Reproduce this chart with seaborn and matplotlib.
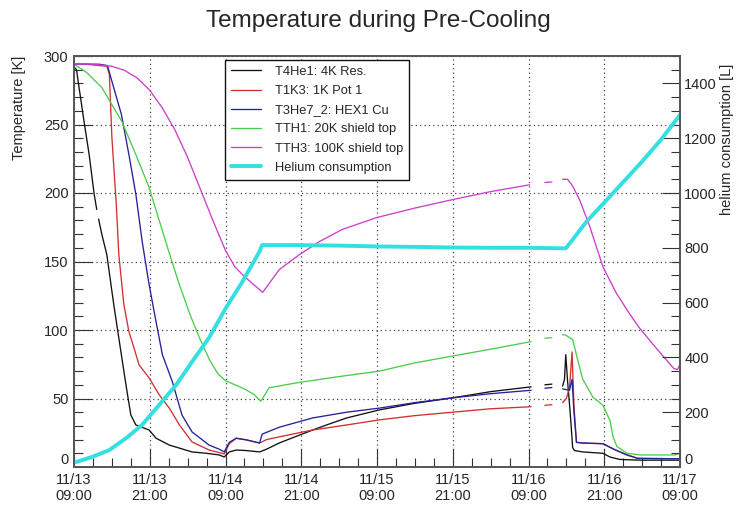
import matplotlib
matplotlib.use("Agg")
import matplotlib.pyplot as plt
import matplotlib.dates as mdates
from matplotlib.lines import Line2D
from matplotlib.ticker import MultipleLocator
import pandas as pd
import seaborn as sns

# ── Data (hours since 11/13 09:00, None = logging gap) ───────────────────────
START = pd.Timestamp("2016-11-13 09:00")

T4HE1_H = [0.0, 0.4, 0.8, 1.6, 2.4, 3.2, 3.6, None,
           3.9, 4.4, 5.2, 6.3, 7.5, 8.3, 9.0, 9.8, 11.9, 13.0, 15.1, 18.7, 21.0, 23.0,
           23.8, 24.6, 25.7, 27.3, 29.4, 30.5, 32.5, 35.0, 37.8, 40.5, 43.2, 48.4,
           54.0, 60.0, 66.0, 72.4, None,
           74.6, 75.7, None,
           77.4, 77.7, 77.9, 78.2, 78.6, 79.0, 79.3, 80.6, 83.8, 84.9, 86.5, 89.7, 96.0]
T4HE1_T = [292, 290, 277, 252, 228, 199, 188, None,
           181, 170, 155, 118.5, 82, 58, 38, 30.7, 27, 21, 16, 11, 10, 8.8,
           7.3, 11, 12.4, 12, 11, 13, 17.5, 22, 27, 31.5, 35.8, 41.7,
           46.5, 50.5, 55, 58.5, None,
           60, 60.5, None,
           59, 64, 82, 62, 40, 14, 12, 11, 10, 7.3, 5.5, 5, 5]

T1K3_H = [0.0, 2.0, 4.0, 5.2, 5.6, 6.0, 6.7, 7.1, 7.9, 8.7, 9.5, 10.3, 11.9, 13.5,
          15.1, 16.7, 18.7, 21.4, 23.0, 23.8, 24.6, 25.7, 27.3, 29.4, 30.5, 32.5,
          37.8, 43.2, 48.4, 54.0, 60.0, 66.0, 72.4, None,
          74.6, 75.7, None,
          77.4, 78.0, 78.5, 78.9, 79.2, 79.6, 80.6, 83.8, 85.5, 87.6, 89.3, 96.0]
T1K3_T = [294, 294, 293, 292.6, 287, 240.7, 191.7, 155, 118.5, 98.8, 87, 74.6, 65, 52.7,
          43, 30.7, 18.3, 12.4, 10.5, 9.5, 17, 21, 19.8, 17.5, 20, 22,
          27, 30.7, 34.4, 37.5, 40, 42.5, 44, None,
          45, 45.5, None,
          47, 50, 58, 84, 45, 18, 17.5, 17, 13, 8.8, 6.3, 6]

T3HE7_H = [0.0, 2.0, 4.0, 5.3, 6.0, 7.5, 8.7, 9.8, 10.8, 11.9, 13.0, 14.0, 15.6, 17.1,
           18.7, 21.4, 23.0, 23.8, 24.6, 25.7, 27.3, 29.4, 29.8, 32.5, 37.8, 43.2,
           48.4, 54.0, 60.0, 66.0, 72.4, None,
           74.6, 75.7, None,
           77.4, 78.5, 78.9, 79.2, 79.6, 80.6, 83.8, 85.5, 87.6, 89.3, 96.0]
T3HE7_T = [294, 294, 294, 293, 281.6, 257.5, 228, 199, 164.6, 133, 106, 82, 62, 38,
           25.6, 16, 13, 11, 18, 21, 19.8, 17.5, 24, 29, 35.8, 40,
           43, 47, 50.5, 53.5, 56, None,
           57.5, 58, None,
           57, 56, 64, 40, 18, 17.5, 17, 13, 8.8, 6.3, 6]

TTH1_H = [0.0, 2.0, 4.4, 7.6, 9.8, 11.9, 13.5, 15.1, 16.7, 18.4, 20.0, 21.5, 22.8,
          24.0, 25.5, 27.0, 28.5, 29.6, 30.9, 35.2, 42.0, 48.4, 54.0, 60.0, 66.0,
          72.4, None,
          74.6, 75.7, None,
          77.4, 77.8, 79.0, 79.8, 80.6, 82.2, 83.8, 84.9, 85.4, 86.0, 87.6, 89.7,
          95.2, 96.0]
TTH1_T = [294, 288, 277, 252, 228, 204, 180, 156, 133, 111, 93, 78, 68,
          63, 60, 57, 53, 48, 57.8, 61.4, 66, 70, 76, 81, 86,
          91.5, None,
          94, 94.4, None,
          96.5, 96.5, 93, 78, 64, 51, 45, 34, 22, 15, 10, 8.8,
          8.8, 10]

TTH3_H = [0.0, 3.0, 6.0, 8.0, 10.0, 12.0, 14.0, 16.0, 18.0, 20.0, 22.0, 24.0, 25.5,
          27.0, 28.5, 29.9, 32.5, 35.7, 38.9, 42.5, 47.9, 54.0, 59.8, 66.0, 72.2, None,
          74.6, 75.7, None,
          77.4, 78.2, 79.0, 80.1, 81.7, 83.8, 85.9, 87.9, 89.5, 92.0, 95.0, 95.6, 96.0]
TTH3_T = [294, 294, 292.5, 289.5, 284, 275, 262, 246, 226, 203, 180, 158, 146,
          139, 133, 127.5, 144, 155, 164.6, 173.4, 182, 189, 195, 201, 206, None,
          207.7, 208, None,
          210, 210, 205, 195, 175.6, 146, 127, 112.6, 102, 88, 72, 71, 75]

HELIUM_H = [0.3, 2.9, 5.6, 8.3, 10.8, 13.5, 16.2, 18.7, 21.4, 24.1, 26.7, 29.4, 29.8,
            35.0, 42.0, 48.0, 55.0, 60.0, 67.0, 72.0, 77.9, 79.0, 81.2, 84.4, 87.0,
            90.0, 93.0, 96.0]
HELIUM_L = [18, 37, 62, 106, 154, 227, 300, 384, 472, 582, 677, 787, 810,
            810, 808, 805, 803, 801, 800, 800, 798, 830, 896, 975, 1040,
            1115, 1195, 1285]

SENSORS = ["T4He1: 4K Res.", "T1K3: 1K Pot 1", "T3He7_2: HEX1 Cu",
           "TTH1: 20K shield top", "TTH3: 100K shield top"]
COLORS = ["#111111", "#d03030", "#22229a", "#4ccc4c", "#cc3fcc"]
HELIUM_LABEL = "Helium consumption"
HELIUM_COLOR = "#33dfe0"

FONT = ["Liberation Sans", "DejaVu Sans"]


def to_frame(name, hours, values):
    h = pd.Series(hours, dtype=float)
    seg = h.isna().cumsum().astype(str)
    df = pd.DataFrame({
        "sensor": name,
        "time": START + pd.to_timedelta(h, unit="h"),
        "value": pd.Series(values, dtype=float),
        "seg": name + "_" + seg,
    })
    return df.dropna()


def main():
    sns.set_theme(style="ticks")
    plt.rcParams["font.family"] = FONT

    temps = pd.concat([
        to_frame(SENSORS[0], T4HE1_H, T4HE1_T),
        to_frame(SENSORS[1], T1K3_H, T1K3_T),
        to_frame(SENSORS[2], T3HE7_H, T3HE7_T),
        to_frame(SENSORS[3], TTH1_H, TTH1_T),
        to_frame(SENSORS[4], TTH3_H, TTH3_T),
    ], ignore_index=True)
    helium = to_frame(HELIUM_LABEL, HELIUM_H, HELIUM_L)

    fig = plt.figure(figsize=(7.38, 5.05), dpi=100)
    ax = fig.add_axes([74 / 738, 1 - 467 / 505, 606 / 738, 411 / 505])

    sns.lineplot(data=temps, x="time", y="value", hue="sensor", units="seg",
                 estimator=None, sort=False, hue_order=SENSORS,
                 palette=dict(zip(SENSORS, COLORS)), lw=0.95, legend=False, ax=ax)

    ax2 = ax.twinx()
    sns.lineplot(data=helium, x="time", y="value", color=HELIUM_COLOR,
                 estimator=None, sort=False, lw=2.8, legend=False, ax=ax2)

    # axes ranges and ticks (ROOT look: inward ticks, dotted grid)
    ax.set_xlim(START, START + pd.Timedelta(hours=96))
    ax.set_ylim(0, 300)
    ax2.set_ylim(0, 1500)
    ax.xaxis.set_major_locator(mdates.HourLocator(byhour=[9, 21]))
    ax.xaxis.set_minor_locator(mdates.HourLocator(byhour=range(0, 24, 3)))
    ax.xaxis.set_major_formatter(mdates.DateFormatter("%m/%d\n%H:%M"))
    ax.yaxis.set_major_locator(MultipleLocator(50))
    ax.yaxis.set_minor_locator(MultipleLocator(10))
    ax2.yaxis.set_major_locator(MultipleLocator(200))
    ax2.yaxis.set_minor_locator(MultipleLocator(50))

    for a in (ax, ax2):
        a.tick_params(which="both", direction="in", width=0.8, color="#333333",
                      labelsize=10.5, top=False)
        a.tick_params(which="major", length=13)
        a.tick_params(which="minor", length=6.5)
        for sp in a.spines.values():
            sp.set_color("#555555")
            sp.set_linewidth(1.2)
    ax.tick_params(axis="y", right=False, pad=4)
    ax.tick_params(axis="x", pad=4)
    ax2.tick_params(axis="y", left=False, right=True, pad=3)

    ax.grid(True, which="major", linestyle=(0, (1, 2.5)), color="#444444", lw=0.9)
    ax2.grid(False)

    ax.set_xlabel("")
    ax.set_ylabel("Temperature [K]", fontsize=10.5, loc="top")
    ax.yaxis.set_label_coords(-0.08, 1.0)
    ax2.set_ylabel("helium consumption [L]", fontsize=10.5, loc="top")
    ax2.yaxis.set_label_coords(1.066, 0.98)

    fig.text(0.513, 1 - 21 / 505, "Temperature during Pre-Cooling",
             fontsize=17.5, ha="center", va="center")

    handles = [Line2D([], [], color=c, lw=0.95) for c in COLORS]
    handles.append(Line2D([], [], color=HELIUM_COLOR, lw=2.8))
    leg = ax2.legend(handles, SENSORS + [HELIUM_LABEL], loc="upper left",
                     bbox_to_anchor=(0.2492, 0.99), borderaxespad=0,
                     fontsize=9.3, frameon=True, fancybox=False, framealpha=1,
                     edgecolor="#111111", handlelength=2.3, labelspacing=0.55,
                     borderpad=0.45, handletextpad=1.1)
    leg.get_frame().set_linewidth(1.0)

    # lift the "0" labels a little so they clear the date labels (as ROOT does)
    fig.canvas.draw()
    for a in (ax, ax2):
        for tick in a.yaxis.get_major_ticks():
            if abs(tick.get_loc()) < 1e-9:
                tick.label1.set_verticalalignment("bottom")
                tick.label2.set_verticalalignment("bottom")

    fig.savefig("out.png", dpi=100)
    plt.close(fig)


if __name__ == "__main__":
    main()
